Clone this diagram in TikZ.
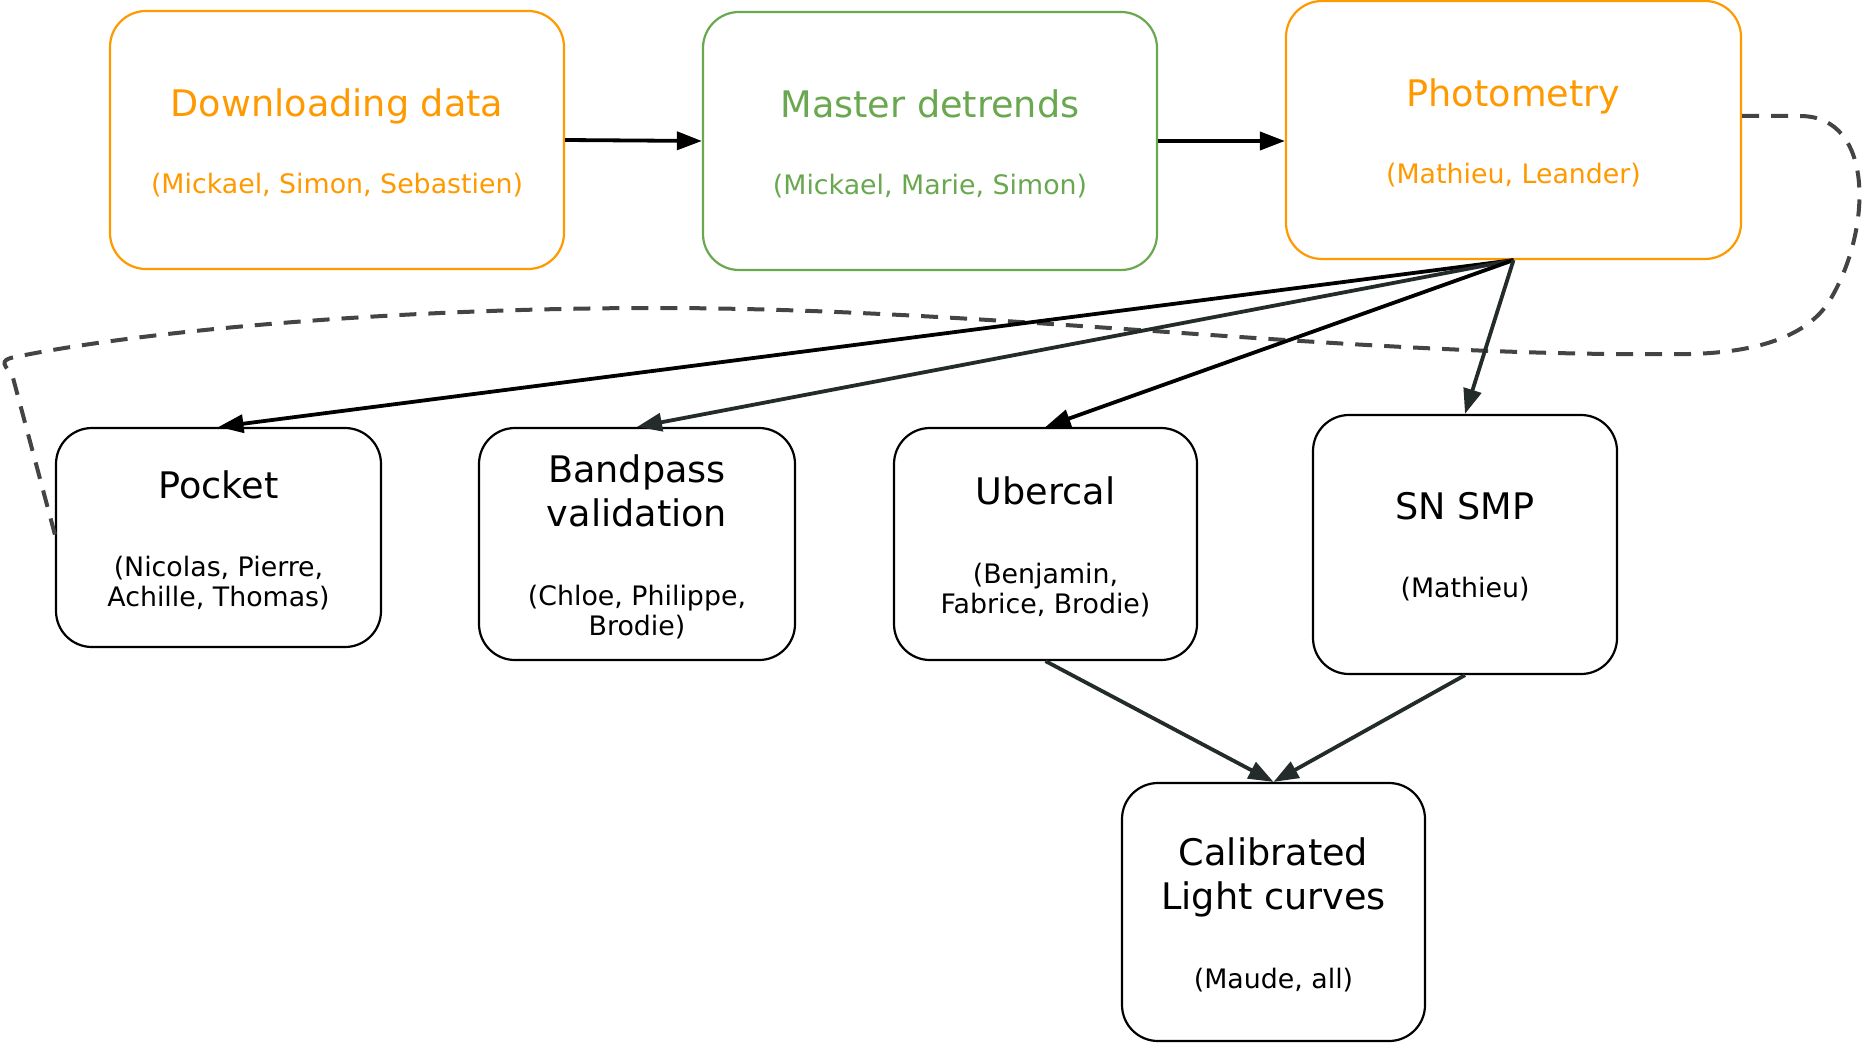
\documentclass[tikz,border=0pt]{standalone}
\usepackage{fontspec}
\setmainfont{DejaVu Sans}
\usetikzlibrary{arrows.meta}
\definecolor{orng}{RGB}{255,153,0}
\definecolor{grn}{RGB}{106,168,79}
\definecolor{dk}{RGB}{35,43,43}
\definecolor{dsh}{RGB}{68,68,68}
\begin{document}
\begin{tikzpicture}[x=0.5pt,y=-0.5pt,
  box/.style={draw, line width=1.1pt, rounded corners=18pt, fill=white, inner sep=0pt},
  ttl/.style={anchor=base, inner sep=0pt, font=\fontsize{18.3}{22}\selectfont},
  sub/.style={anchor=base, inner sep=0pt, font=\fontsize{13.4}{16}\selectfont},
  arr/.style={line width=1.9pt, -{Triangle[length=12.5pt,width=9pt]}},
  dline/.style={draw=dsh, line width=2pt, dash pattern=on 8.5pt off 6pt}]
\useasboundingbox (0,0) rectangle (1872,1048);

% top row
\node[box, draw=orng, minimum width=227pt, minimum height=129pt] (dl) at (337,140) {};
\node[ttl, text=orng] (dlt) at (337,117) {Downloading data};
\node[sub, text=orng] (dls) at (337,194) {(Mickael, Simon, Sebastien)};

\node[box, draw=grn, minimum width=227pt, minimum height=129pt] (md) at (930,141) {};
\node[ttl, text=grn] (mdt) at (930,118) {Master detrends};
\node[sub, text=grn] (mds) at (930,195) {(Mickael, Marie, Simon)};

\node[box, draw=orng, minimum width=227.5pt, minimum height=129pt] (ph) at (1513.5,130) {};
\node[ttl, text=orng] (pht) at (1513.5,107) {Photometry};
\node[sub, text=orng] (phs) at (1513.5,184) {(Mathieu, Leander)};

% second row
\node[box, minimum width=162.5pt, minimum height=109.5pt] (pk) at (218.5,537.5) {};
\node[ttl] (pkt) at (218.5,498) {Pocket};
\node[sub] (pks1) at (218.5,576) {(Nicolas, Pierre,};
\node[sub] (pks2) at (218.5,606) {Achille, Thomas)};

\node[box, minimum width=158pt, minimum height=116pt] (bp) at (637,544) {};
\node[ttl] (bpt1) at (637,482) {Bandpass};
\node[ttl] (bpt2) at (637,526) {validation};
\node[sub] (bps1) at (637,605) {(Chloe, Philippe,};
\node[sub] (bps2) at (637,635) {Brodie)};

\node[box, minimum width=151.5pt, minimum height=116pt] (ub) at (1045.5,544) {};
\node[ttl] (ubt) at (1045.5,504) {Ubercal};
\node[sub] (ubs1) at (1045.5,583) {(Benjamin,};
\node[sub] (ubs2) at (1045.5,613) {Fabrice, Brodie)};

\node[box, minimum width=152pt, minimum height=129.5pt] (sn) at (1465,544.5) {};
\node[ttl] (snt) at (1465,519) {SN SMP};
\node[sub] (sns) at (1465,597) {(Mathieu)};

% bottom
\node[box, minimum width=151.5pt, minimum height=129pt] (cal) at (1273.5,912) {};
\node[ttl] (calt1) at (1273.5,865) {Calibrated};
\node[ttl] (calt2) at (1273.5,909) {Light curves};
\node[sub] (cals) at (1273.5,988) {(Maude, all)};

% dashed feedback line
\draw[dline] ([yshift=7pt]ph.east) -- (1800,116)
  .. controls (1875,116) and (1872,230) .. (1830,300)
  .. controls (1812,330) and (1770,352) .. (1690,354)
  .. controls (1350,358) and (1000,308) .. (657,308)
  .. controls (400,308) and (150,330) .. (20,356)
  .. controls (2,359) and (0,362) .. (12,374)
  -- ([yshift=1.5pt]pk.west);

% arrows
\draw[arr, black] (dl.east) -- (md.west);
\draw[arr, black] (md.east) -- (md.east -| ph.west);
\draw[arr, black] (ph.south) -- (pk.north);
\draw[arr, dk] (ph.south) -- (bp.north);
\draw[arr, black] (ph.south) -- (ub.north);
\draw[arr, dk] (ph.south) -- (sn.north);
\draw[arr, dk] (ub.south) -- (cal.north);
\draw[arr, dk] (sn.south) -- (cal.north);
\end{tikzpicture}
\end{document}
